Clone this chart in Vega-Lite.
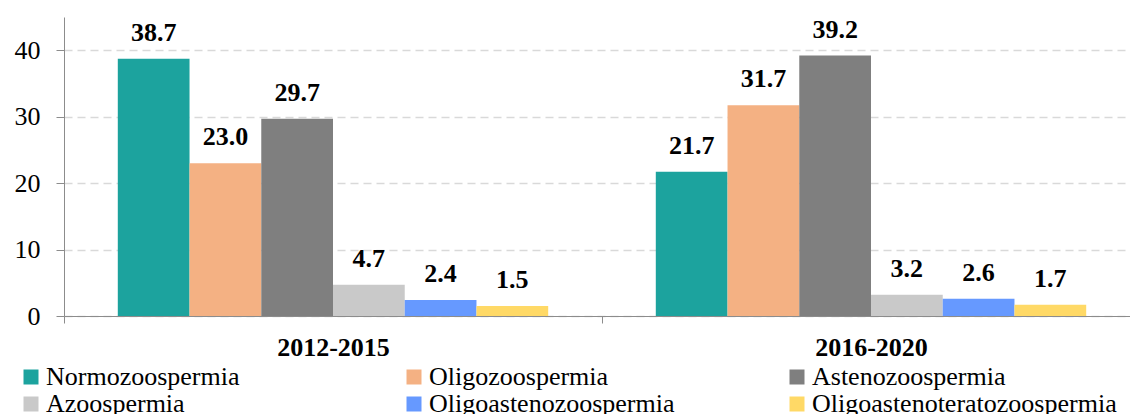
{
  "$schema": "https://vega.github.io/schema/vega-lite/v6.json",
  "autosize": {"type": "none"},
  "padding": {"left": 64, "top": 17, "right": 0, "bottom": 98},
  "width": 1076,
  "height": 299,
  "background": "white",
  "config": {
    "font": "'Liberation Serif'",
    "view": {"stroke": null}
  },
  "data": {
    "values": [
      {"period": "2012-2015", "type": "Normozoospermia", "value": 38.7},
      {"period": "2012-2015", "type": "Oligozoospermia", "value": 23.0},
      {"period": "2012-2015", "type": "Astenozoospermia", "value": 29.7},
      {"period": "2012-2015", "type": "Azoospermia", "value": 4.7},
      {"period": "2012-2015", "type": "Oligoastenozoospermia", "value": 2.4},
      {"period": "2012-2015", "type": "Oligoastenoteratozoospermia", "value": 1.5},
      {"period": "2016-2020", "type": "Normozoospermia", "value": 21.7},
      {"period": "2016-2020", "type": "Oligozoospermia", "value": 31.7},
      {"period": "2016-2020", "type": "Astenozoospermia", "value": 39.2},
      {"period": "2016-2020", "type": "Azoospermia", "value": 3.2},
      {"period": "2016-2020", "type": "Oligoastenozoospermia", "value": 2.6},
      {"period": "2016-2020", "type": "Oligoastenoteratozoospermia", "value": 1.7}
    ]
  },
  "encoding": {
    "x": {
      "field": "period",
      "type": "nominal",
      "scale": {"paddingInner": 0, "paddingOuter": 0},
      "axis": {
        "title": null,
        "labelAngle": 0,
        "labelFont": "'Liberation Serif'",
        "labelFontSize": 26,
        "labelFontWeight": "bold",
        "labelColor": "black",
        "tickBand": "extent",
        "tickSize": 7,
        "tickColor": "#8c8c8c",
        "domainColor": "#8c8c8c",
        "labelPadding": 11,
        "grid": false
      }
    },
    "xOffset": {
      "field": "type",
      "type": "nominal",
      "sort": ["Normozoospermia", "Oligozoospermia", "Astenozoospermia", "Azoospermia", "Oligoastenozoospermia", "Oligoastenoteratozoospermia"],
      "scale": {"paddingInner": 0, "paddingOuter": 0.75}
    },
    "y": {
      "field": "value",
      "type": "quantitative",
      "scale": {"domain": [0, 45], "nice": false},
      "axis": {
        "title": null,
        "values": [0, 10, 20, 30, 40],
        "labelFont": "'Liberation Serif'",
        "labelFontSize": 26,
        "labelColor": "black",
        "labelPadding": 16,
        "tickSize": 8,
        "tickColor": "#8c8c8c",
        "domainColor": "#8c8c8c",
        "gridColor": "#d9d9d9",
        "gridDash": [8, 5],
        "gridWidth": 1.5
      }
    }
  },
  "layer": [
    {
      "mark": {"type": "bar"},
      "encoding": {
        "color": {
          "field": "type",
          "type": "nominal",
          "sort": ["Normozoospermia", "Oligozoospermia", "Astenozoospermia", "Azoospermia", "Oligoastenozoospermia", "Oligoastenoteratozoospermia"],
          "scale": {
            "domain": ["Normozoospermia", "Oligozoospermia", "Astenozoospermia", "Azoospermia", "Oligoastenozoospermia", "Oligoastenoteratozoospermia"],
            "range": ["#1ca39e", "#f4b183", "#7f7f7f", "#c9c9c9", "#6699ff", "#ffd966"]
          },
          "legend": {
            "title": null,
            "orient": "none",
            "legendX": -46,
            "legendY": 347,
            "direction": "horizontal",
            "columns": 3,
            "gridAlign": "all",
            "columnPadding": 50,
            "rowPadding": 1,
            "symbolType": "square",
            "symbolSize": 225,
            "symbolStrokeWidth": 0,
            "symbolOffset": 0,
            "labelOffset": 2,
            "labelFont": "'Liberation Serif'",
            "labelFontSize": 26,
            "labelColor": "black",
            "labelLimit": 400
          }
        }
      }
    },
    {
      "mark": {
        "type": "text",
        "font": "'Liberation Serif'",
        "fontSize": 26,
        "fontWeight": "bold",
        "color": "black",
        "baseline": "alphabetic",
        "dy": -18
      },
      "encoding": {
        "text": {"field": "value", "type": "quantitative", "format": ".1f"}
      }
    }
  ]
}
